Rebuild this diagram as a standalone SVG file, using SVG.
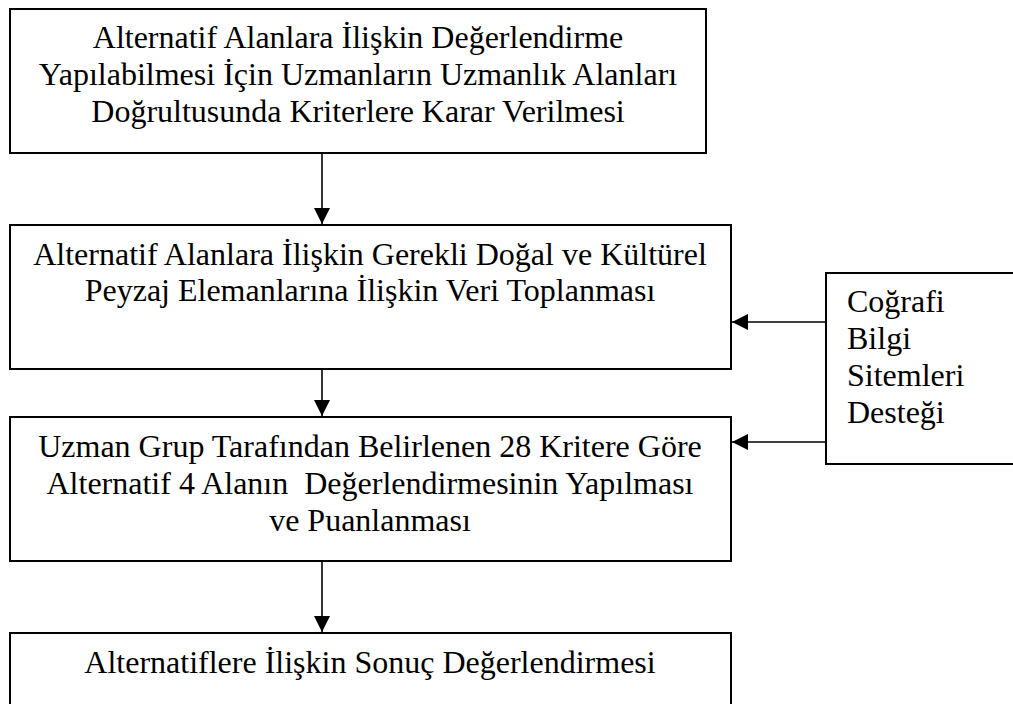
<svg xmlns="http://www.w3.org/2000/svg" width="1013" height="704" viewBox="0 0 1013 704">
<style>
.box{fill:#fff;stroke:#000;stroke-width:2}
.t{font-family:'Liberation Serif','Times New Roman',Tinos,'Nimbus Roman','Nimbus Roman No9 L',FreeSerif,'Noto Serif','DejaVu Serif',serif;font-size:32px;fill:#000;white-space:pre}
.c{text-anchor:middle}
.conn{stroke:#000;stroke-width:1.6;fill:none}
</style>
<defs>
<marker id="ah" markerUnits="userSpaceOnUse" markerWidth="16" markerHeight="16" viewBox="0 0 16 16" refX="16" refY="8" orient="auto">
<path d="M0,0 L16,8 L0,16 Z" fill="#000"/>
</marker>
</defs>
<rect width="1013" height="704" fill="#fff"/>
<g id="node1">
<rect class="box" x="10" y="9" width="696" height="144"/>
<text class="t c" x="358" y="48">Alternatif Alanlara İlişkin Değerlendirme</text>
<text class="t c" x="358" y="85">Yapılabilmesi İçin Uzmanların Uzmanlık Alanları</text>
<text class="t c" x="358" y="122">Doğrultusunda Kriterlere Karar Verilmesi</text>
</g>
<g id="node2">
<rect class="box" x="10" y="225" width="721" height="144"/>
<text class="t c" x="370" y="265">Alternatif Alanlara İlişkin Gerekli Doğal ve Kültürel</text>
<text class="t c" x="370" y="301">Peyzaj Elemanlarına İlişkin Veri Toplanması</text>
</g>
<g id="node3">
<rect class="box" x="10" y="417" width="721" height="144"/>
<text class="t c" x="370" y="457">Uzman Grup Tarafından Belirlenen 28 Kritere Göre</text>
<text class="t c" x="370" y="494">Alternatif 4 Alanın  Değerlendirmesinin Yapılması</text>
<text class="t c" x="370" y="531">ve Puanlanması</text>
</g>
<g id="node4">
<rect class="box" x="10" y="633" width="721" height="100"/>
<text class="t c" x="370" y="673">Alternatiflere İlişkin Sonuç Değerlendirmesi</text>
</g>
<g id="node5">
<rect class="box" x="826" y="273" width="220" height="191"/>
<text class="t" x="847" y="312">Coğrafi</text>
<text class="t" x="847" y="349">Bilgi</text>
<text class="t" x="847" y="386">Sitemleri</text>
<text class="t" x="847" y="423">Desteği</text>
</g>
<g id="connectors">
<line class="conn" x1="322" y1="153" x2="322" y2="224" marker-end="url(#ah)"/>
<line class="conn" x1="322" y1="369" x2="322" y2="416" marker-end="url(#ah)"/>
<line class="conn" x1="322" y1="561" x2="322" y2="632" marker-end="url(#ah)"/>
<line class="conn" x1="826" y1="322" x2="732" y2="322" marker-end="url(#ah)"/>
<line class="conn" x1="826" y1="442" x2="732" y2="442" marker-end="url(#ah)"/>
</g>
</svg>
